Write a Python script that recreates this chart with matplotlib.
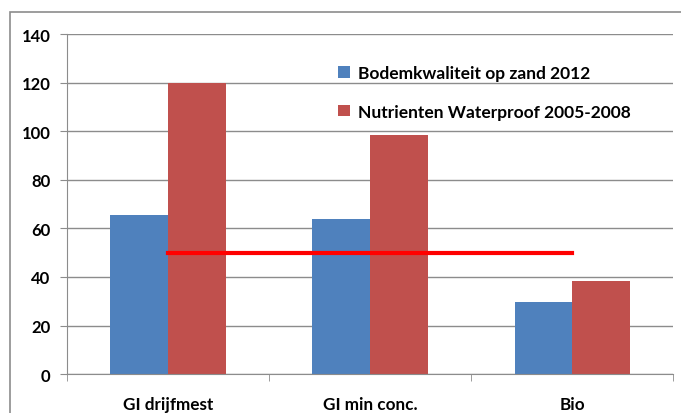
import matplotlib.pyplot as plt
import matplotlib.patches as mpatches
import numpy as np

categories = ['GI drijfmest', 'GI min conc.', 'Bio']
bodem = [65.5, 64, 29.5]
nutrienten = [120, 98.5, 38.5]
series_names = ['Bodemkwaliteit op zand 2012', 'Nutrienten Waterproof 2005-2008']
norm_level = 50

plt.rcParams['font.family'] = ['Lato', 'DejaVu Sans']

fig = plt.figure(figsize=(6.81, 4.14), dpi=100)
ax = fig.add_axes([0.0984, 0.094, 0.890, 0.821])

x = np.arange(len(categories))
w = 0.285
ax.bar(x - w / 2, bodem, w, color='#4F81BD', label=series_names[0], zorder=2)
ax.bar(x + w / 2, nutrienten, w, color='#C0504D', label=series_names[1], zorder=2)
ax.plot([x[0], x[-1]], [norm_level, norm_level], color='#FF0000', lw=3, zorder=3)

ax.set_xlim(-0.5, 2.5)
ax.set_ylim(0, 140)
ax.set_yticks(range(0, 141, 20))
ax.yaxis.grid(True, color='#8C8C8C', lw=1)
ax.set_axisbelow(True)

ax.set_xticks(x)
ax.set_xticklabels(categories, fontsize=12.3, fontweight='bold')
ax.set_xticks([-0.5, 0.5, 1.5, 2.5], minor=True)
ax.tick_params(axis='x', which='major', length=0, pad=16)
ax.tick_params(axis='x', which='minor', length=5, color='#8C8C8C')
ax.tick_params(axis='y', length=5, color='#8C8C8C', labelsize=12, pad=7)
for lab in ax.get_yticklabels():
    lab.set_fontweight('bold')

for s in ['top', 'right']:
    ax.spines[s].set_visible(False)
for s in ['left', 'bottom']:
    ax.spines[s].set_color('#8C8C8C')

leg = fig.legend(loc='upper left', bbox_to_anchor=(0.474, 0.878), frameon=False,
                 handlelength=0.65, handleheight=0.65, handletextpad=0.45,
                 labelspacing=1.3, prop={'weight': 'bold', 'size': 12.5})

fig.patches.append(mpatches.Rectangle((10 / 681, -0.1), 1.2, 1 - 13 / 414 + 0.1,
                                      transform=fig.transFigure, fill=False,
                                      edgecolor='#8C8C8C', lw=1.2))

fig.savefig('out.png', dpi=100)
